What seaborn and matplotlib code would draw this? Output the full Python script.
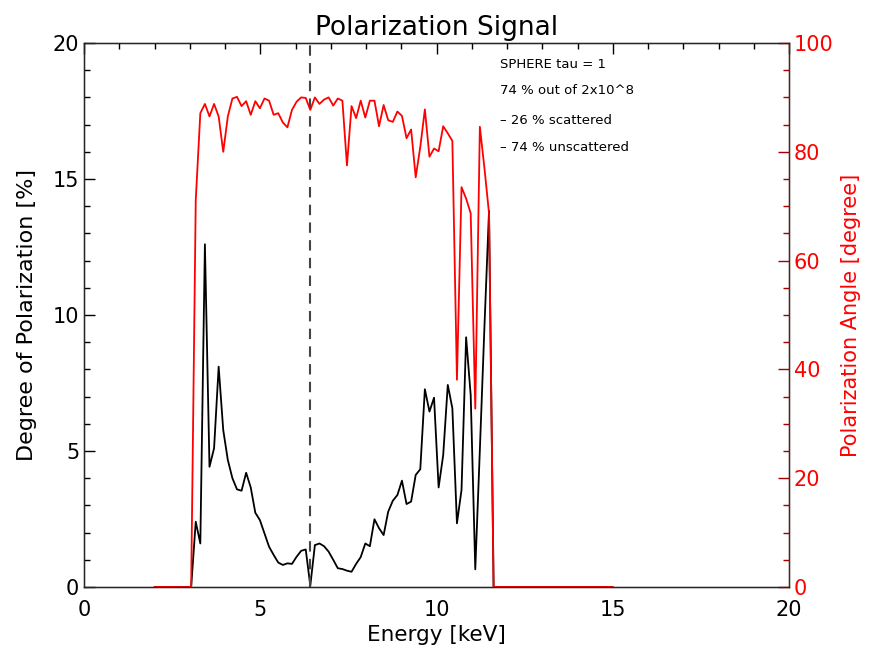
import numpy as np
import pandas as pd
import matplotlib
matplotlib.use("Agg")
import matplotlib.pyplot as plt
import seaborn as sns
from matplotlib.ticker import MultipleLocator

# Energy grid [keV] (flat zero segments only need their end points)
energy = [2.00,
          3.04, 3.17, 3.30, 3.43, 3.56, 3.69, 3.82, 3.95, 4.08, 4.21,
          4.34, 4.47, 4.60, 4.73, 4.86, 4.99, 5.12, 5.25, 5.38, 5.51,
          5.64, 5.77, 5.90, 6.03, 6.16, 6.29, 6.42, 6.55, 6.68, 6.81,
          6.94, 7.07, 7.20, 7.33, 7.46, 7.59, 7.72, 7.85, 7.98, 8.11,
          8.24, 8.37, 8.50, 8.63, 8.76, 8.89, 9.02, 9.15, 9.28, 9.41,
          9.54, 9.67, 9.80, 9.93, 10.06, 10.19, 10.32, 10.45, 10.58, 10.71,
          10.84, 10.97, 11.10, 11.23, 11.36, 11.49, 11.62,
          15.00]

# Degree of polarization [%]
degree = [0.0,
          0.0, 2.4, 1.6, 12.6, 4.42, 5.1, 8.1, 5.77, 4.67, 4.0,
          3.59, 3.54, 4.2, 3.66, 2.73, 2.46, 1.97, 1.48, 1.18, 0.9,
          0.81, 0.87, 0.85, 1.11, 1.33, 1.38, 0.05, 1.54, 1.6, 1.5,
          1.3, 1.0, 0.69, 0.66, 0.6, 0.56, 0.85, 1.1, 1.6, 1.5,
          2.49, 2.16, 1.91, 2.77, 3.17, 3.38, 3.91, 3.05, 3.14, 4.12,
          4.33, 7.27, 6.45, 6.96, 3.66, 4.85, 7.43, 6.57, 2.34, 3.57,
          9.18, 7.06, 0.65, 5.04, 9.57, 13.83, 0.0,
          0.0]

# Polarization angle [degree]
angle = [0.0,
         0.0, 71.1, 87.1, 88.8, 86.5, 88.8, 86.5, 80.0, 86.5, 89.8,
         90.1, 88.4, 89.3, 86.8, 89.3, 88.0, 89.8, 89.4, 86.8, 87.1,
         85.4, 84.5, 87.7, 89.2, 90.0, 89.9, 87.7, 90.0, 88.8, 89.6,
         90.0, 88.5, 89.8, 89.4, 77.5, 88.4, 86.2, 89.4, 86.3, 89.4,
         89.4, 84.7, 88.6, 85.8, 85.5, 87.4, 86.6, 82.5, 84.1, 75.3,
         80.9, 87.8, 79.1, 80.6, 80.1, 84.7, 83.4, 82.0, 38.1, 73.5,
         71.4, 68.7, 32.8, 84.6, 77.0, 68.7, 0.0,
         0.0]

line_energy = 6.4
annotations = ["SPHERE tau = 1", "74 % out of 2x10^8",
               "\u2013 26 % scattered", "\u2013 74 % unscattered"]
annot_y = [19.2, 18.24, 17.15, 16.16]

df = pd.DataFrame({"energy": energy, "degree": degree, "angle": angle})

sns.set_style("white")
plt.rcParams["font.family"] = ["DejaVu Sans"]
plt.rcParams["text.color"] = "black"
plt.rcParams["axes.labelcolor"] = "black"
plt.rcParams["xtick.color"] = "black"
plt.rcParams["ytick.color"] = "black"

fig = plt.figure(figsize=(8.69, 6.56), dpi=100)
ax = fig.add_axes([84 / 869, 1 - 587 / 656, (789 - 84) / 869, (587 - 43) / 656])

sns.lineplot(data=df, x="energy", y="degree", ax=ax, color="black", lw=1.3,
             estimator=None, sort=False)
ax.axvline(line_energy, color="#444444", lw=1.5, ls=(0, (5, 3.5)))
ax.set_xlim(0, 20)
ax.set_ylim(0, 20)
ax.set_xlabel("Energy [keV]", fontsize=15.5, labelpad=4)
ax.set_ylabel("Degree of Polarization [%]", fontsize=16, labelpad=11)
ax.set_title("Polarization Signal", fontsize=19, pad=6)
ax.xaxis.set_major_locator(MultipleLocator(5))
ax.xaxis.set_minor_locator(MultipleLocator(1))
ax.yaxis.set_major_locator(MultipleLocator(5))
ax.yaxis.set_minor_locator(MultipleLocator(1))
ax.tick_params(axis="x", which="both", direction="in", top=True, labelsize=15, pad=9)
ax.tick_params(axis="y", which="both", direction="in", right=False, labelsize=15)
ax.tick_params(which="major", length=8, width=1)
ax.tick_params(which="minor", length=4, width=1)
for s in ax.spines.values():
    s.set_color("black")
    s.set_linewidth(1)

for t, y in zip(annotations, annot_y):
    ax.text(11.8, y, t, fontsize=9.5, ha="left", va="center", color="black")

ax2 = ax.twinx()
sns.lineplot(data=df, x="energy", y="angle", ax=ax2, color="#ff0000", lw=1.3,
             estimator=None, sort=False)
ax2.set_ylim(0, 100)
ax2.set_ylabel("Polarization Angle [degree]", fontsize=15, color="#ff0000", labelpad=5)
ax2.yaxis.set_major_locator(MultipleLocator(20))
ax2.yaxis.set_minor_locator(MultipleLocator(5))
ax2.tick_params(axis="y", which="both", direction="in", colors="#a00000",
                labelcolor="#ff0000", labelsize=15)
ax2.tick_params(which="major", length=8, width=1)
ax2.tick_params(which="minor", length=4, width=1)
ax2.spines["right"].set_color("#a00000")
ax2.set_xlim(0, 20)

fig.savefig("out.png", dpi=100)
